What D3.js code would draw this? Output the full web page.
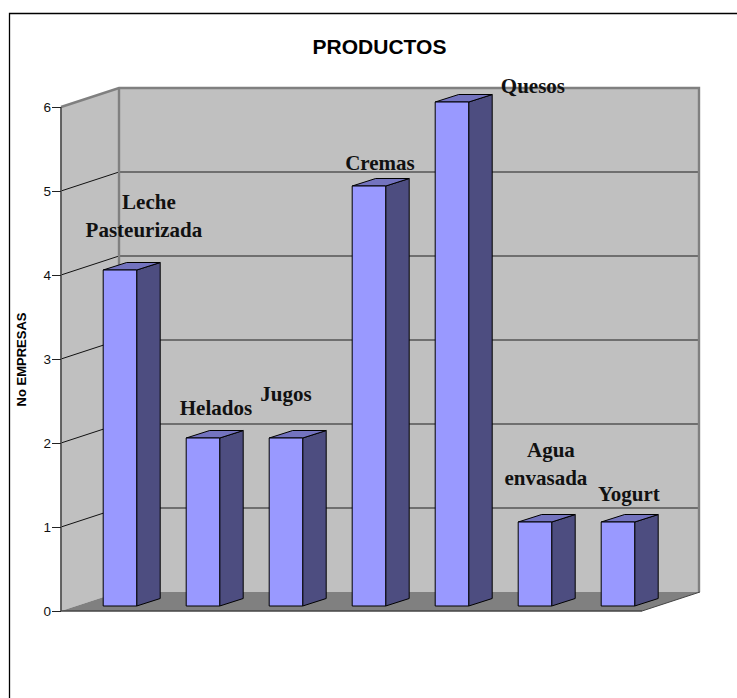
<!DOCTYPE html>
<html><head><meta charset="utf-8">
<script src="https://cdnjs.cloudflare.com/ajax/libs/d3/7.8.5/d3.min.js"></script>
<style>html,body{margin:0;padding:0;background:#fff}svg{display:block}</style>
</head><body><svg id="c" width="737" height="698"></svg>
<script>
const categories = ["Leche Pasteurizada","Helados","Jugos","Cremas","Quesos","Agua envasada","Yogurt"];
const values = [4,2,2,5,6,1,1];
const tickValues = [0,1,2,3,4,5,6];
const chartTitle = "PRODUCTOS";
const yAxisTitle = "No EMPRESAS";

const labelLines = [["Leche","Pasteurizada"],["Helados"],["Jugos"],["Cremas"],["Quesos"],["Agua","envasada"],["Yogurt"]];
// hand-placed annotation offsets from the top-front-centre of each bar
const labelShift = [[24,-38],[13,-28],[0,-42],[11,-21],[81,-14],[11,-42],[11,-26]];

const svg = d3.select("#c");
const W = {x0:61,x1:642,y0:611,y1:107}, depth = {dx:58,dy:-19}, bar = {dx:23.5,dy:-7.5,base:-5};
const backW = 580, bw = 33.5, step = 83;
const x = d3.scaleLinear().domain([0,categories.length]).range([103.2,103.2+step*categories.length]);
const y = d3.scaleLinear().domain([0,6]).range([W.y0,W.y1]);

// frame
svg.append("path").attr("d","M9.5,698V13.5H737").attr("fill","none").attr("stroke","#000").attr("stroke-width",1.3);

// title
svg.append("text").attr("x",379.5).attr("y",54).attr("text-anchor","middle")
  .attr("font-family","Liberation Sans").attr("font-weight","bold").attr("font-size",21).text(chartTitle);

// walls
const poly = p => "M"+p.map(d=>d.join(",")).join("L")+"Z";
svg.append("path").attr("d",poly([[W.x0+depth.dx,y(6)+depth.dy],[W.x0+depth.dx+backW,y(6)+depth.dy],[W.x0+depth.dx+backW,y(0)+depth.dy],[W.x0+depth.dx,y(0)+depth.dy]])).attr("fill","#c0c0c0");
svg.append("path").attr("d",poly([[W.x0,y(0)],[W.x0,y(6)],[W.x0+depth.dx,y(6)+depth.dy],[W.x0+depth.dx,y(0)+depth.dy]])).attr("fill","#c0c0c0");
svg.append("path").attr("d",poly([[W.x0,y(0)],[W.x1,y(0)],[W.x1+depth.dx,y(0)+depth.dy],[W.x0+depth.dx,y(0)+depth.dy]])).attr("fill","#808080");

// grid
tickValues.filter(t=>t>0&&t<6).forEach(t=>{
  svg.append("line").attr("x1",W.x0).attr("y1",y(t)).attr("x2",W.x0+depth.dx).attr("y2",y(t)+depth.dy).attr("stroke","#111").attr("stroke-width",1);
  svg.append("line").attr("x1",W.x0+depth.dx).attr("y1",y(t)+depth.dy).attr("x2",W.x0+depth.dx+backW).attr("y2",y(t)+depth.dy).attr("stroke","#555").attr("stroke-width",1.4);
});
// wall edges
svg.append("path").attr("d",`M${W.x0},${y(6)}L${W.x0+depth.dx},${y(6)+depth.dy}H${W.x0+depth.dx+backW}V${y(0)+depth.dy}`).attr("fill","none").attr("stroke","#808080").attr("stroke-width",2.4);
svg.append("line").attr("x1",W.x0+depth.dx).attr("x2",W.x0+depth.dx).attr("y1",y(6)+depth.dy).attr("y2",y(0)+depth.dy).attr("stroke","#808080").attr("stroke-width",2.4);
svg.append("line").attr("x1",W.x0).attr("x2",W.x0).attr("y1",y(6)).attr("y2",y(0)).attr("stroke","#555").attr("stroke-width",1.8);
svg.append("line").attr("x1",W.x0).attr("x2",W.x1).attr("y1",y(0)).attr("y2",y(0)).attr("stroke","#444").attr("stroke-width",1.4);
svg.append("line").attr("x1",W.x1).attr("x2",W.x1+depth.dx).attr("y1",y(0)).attr("y2",y(0)+depth.dy).attr("stroke","#444").attr("stroke-width",1);

// axis
const axis = d3.axisLeft(y).tickValues(tickValues).tickSize(9).tickPadding(1).tickFormat(d3.format("d"));
const ga = svg.append("g").attr("transform",`translate(${W.x0},0)`).call(axis);
ga.select(".domain").remove();
ga.selectAll("line").attr("stroke","#222").attr("stroke-width",1);
ga.selectAll("text").attr("font-family","Liberation Sans").attr("font-size",13.5).attr("fill","#111");

svg.append("text").attr("transform","translate(26,359.5) rotate(-90)").attr("text-anchor","middle")
  .attr("font-family","Liberation Sans").attr("font-weight","bold").attr("font-size",13).text(yAxisTitle);

// bars
categories.forEach((c,i)=>{
  const v = values[i], l = x(i), r = l+bw, t = y(v)+bar.base, b = y(0)+bar.base;
  const g = svg.append("g").attr("stroke","#000").attr("stroke-width",1).attr("stroke-linejoin","round");
  g.append("path").attr("d",poly([[r,t],[r+bar.dx,t+bar.dy],[r+bar.dx,b+bar.dy],[r,b]])).attr("fill","#4d4d80");
  g.append("path").attr("d",poly([[l,t],[l+bar.dx,t+bar.dy],[r+bar.dx,t+bar.dy],[r,t]])).attr("fill","#7373bf");
  g.append("path").attr("d",poly([[l,t],[r,t],[r,b],[l,b]])).attr("fill","#9999ff");
});

// labels
categories.forEach((c,i)=>{
  const cx = x(i)+bw/2+labelShift[i][0], by = y(values[i])+labelShift[i][1], n = labelLines[i].length;
  labelLines[i].forEach((s,j)=>{
    svg.append("text").attr("x",cx+(n>1&&j===0?5:0)).attr("y",by+(j-n+1)*28).attr("text-anchor","middle")
      .attr("font-family","Liberation Serif").attr("font-weight","bold").attr("font-size",21).attr("fill","#111").text(s);
  });
});
</script></body></html>
